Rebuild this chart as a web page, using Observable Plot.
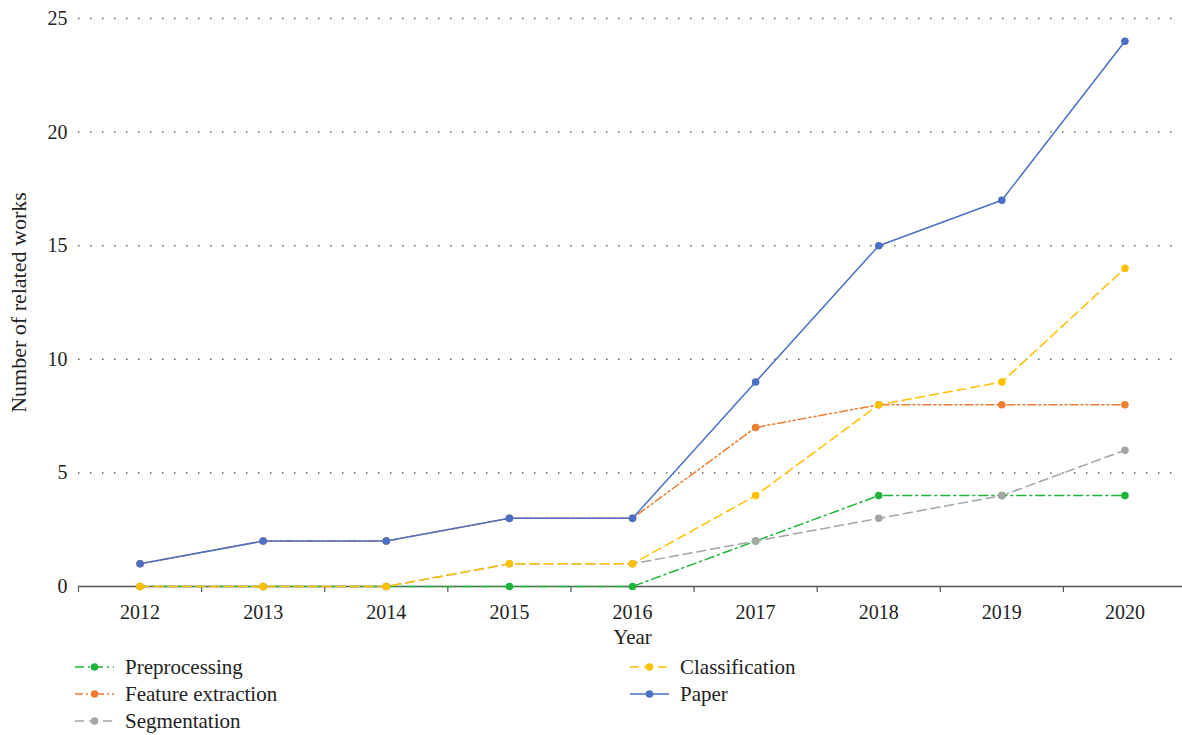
<!DOCTYPE html>
<html>
<head>
<meta charset="utf-8">
<script src="https://cdn.jsdelivr.net/npm/d3@7"></script>
<script src="https://cdn.jsdelivr.net/npm/@observablehq/plot@0.6"></script>
<style>
  body { margin: 0; background: #fff; font-family: "Liberation Serif", serif; }
  #wrap { position: relative; width: 1182px; height: 735px; }
  .leg { position: absolute; display: flex; align-items: center; font-family: "Liberation Serif", "Times New Roman", serif; font-size: 21px; color: #222; height: 24px; }
  .leg span { font-family: "Liberation Serif", "Times New Roman", serif; }
  .leg svg { margin-right: 11px; }
</style>
</head>
<body>
<div id="wrap"></div>
<script>
const years = [2012, 2013, 2014, 2015, 2016, 2017, 2018, 2019, 2020];
const preprocessing     = [0, 0, 0, 0, 0, 2, 4, 4, 4];
const featureExtraction = [1, 2, 2, 3, 3, 7, 8, 8, 8];
const segmentation      = [0, 0, 0, 1, 1, 2, 3, 4, 6];
const classification    = [0, 0, 0, 1, 1, 4, 8, 9, 14];
const paper             = [1, 2, 2, 3, 3, 9, 15, 17, 24];
const yTicks = [0, 5, 10, 15, 20, 25];
const seriesNames = ["Preprocessing", "Feature extraction", "Segmentation", "Classification", "Paper"];
const xTitle = "Year";
const yTitle = "Number of related works";

const series = [
  {name: seriesNames[0], values: preprocessing,     color: "#1fb53a", dash: "9,4,2,4"},
  {name: seriesNames[1], values: featureExtraction, color: "#ed7d31", dash: "8,3,2,3,2,3"},
  {name: seriesNames[2], values: segmentation,      color: "#a5a5a5", dash: "9,5"},
  {name: seriesNames[3], values: classification,    color: "#ffc000", dash: "9,5"},
  {name: seriesNames[4], values: paper,             color: "#4a6fc4", dash: null}
];

const halfYears = years.map(y => y - 0.5).concat([years[years.length - 1] + 0.5]);

const marks = [
  Plot.gridY(yTicks.filter(d => d > 0), {stroke: "#666", strokeOpacity: 1, strokeWidth: 1.5, strokeDasharray: "1.5,10.5"}),
  Plot.axisY({ticks: yTicks, tickSize: 0, tickPadding: 11, label: null}),
  Plot.axisX({ticks: halfYears, tickSize: 6, tickFormat: () => "", stroke: "#555", strokeWidth: 1.2, label: null}),
  Plot.ruleY([0], {stroke: "#555", strokeWidth: 1.5}),
  Plot.axisX({ticks: years, tickSize: 0, tickPadding: 18, tickFormat: d => String(d), label: null}),
  Plot.text([yTitle], {text: d => d, frameAnchor: "left", textAnchor: "middle", lineAnchor: "middle", rotate: -90, dx: -60, fontSize: 22, fill: "#222"}),
  Plot.text([xTitle], {text: d => d, frameAnchor: "bottom", textAnchor: "middle", lineAnchor: "middle", dy: 51, fontSize: 21, fill: "#222"})
];

for (const s of series) {
  const data = years.map((yr, i) => ({year: yr, value: s.values[i]}));
  marks.push(Plot.line(data, {x: "year", y: "value", stroke: s.color, strokeWidth: 1.5, strokeDasharray: s.dash || undefined}));
  marks.push(Plot.dot(data, {x: "year", y: "value", fill: s.color, r: 3.8, stroke: "none"}));
}

const chart = Plot.plot({
  width: 1182,
  height: 650,
  marginLeft: 78,
  marginRight: -4,
  marginTop: 18,
  marginBottom: 64,
  x: {domain: [2011.5, 2020.5]},
  y: {domain: [0, 25]},
  style: {fontFamily: "Liberation Serif, serif", fontSize: "20px", color: "#222", background: "#fff", overflow: "hidden"},
  marks
});
const wrap = document.getElementById("wrap");
wrap.appendChild(chart);

// legend
const legPos = [
  {left: 75, top: 655}, {left: 75, top: 682}, {left: 75, top: 709},
  {left: 630, top: 655}, {left: 630, top: 682}
];
series.forEach((s, i) => {
  const div = document.createElement("div");
  div.className = "leg";
  div.style.left = legPos[i].left + "px";
  div.style.top = legPos[i].top + "px";
  const ns = "http://www.w3.org/2000/svg";
  const svg = document.createElementNS(ns, "svg");
  svg.setAttribute("width", 39); svg.setAttribute("height", 24);
  const line = document.createElementNS(ns, "line");
  line.setAttribute("x1", 0); line.setAttribute("x2", 39);
  line.setAttribute("y1", 12); line.setAttribute("y2", 12);
  line.setAttribute("stroke", s.color); line.setAttribute("stroke-width", 1.5);
  if (s.dash) line.setAttribute("stroke-dasharray", s.dash);
  const c = document.createElementNS(ns, "circle");
  c.setAttribute("cx", 19.5); c.setAttribute("cy", 12); c.setAttribute("r", 3.8);
  c.setAttribute("fill", s.color);
  svg.appendChild(line); svg.appendChild(c);
  div.appendChild(svg);
  const t = document.createElement("span");
  t.textContent = s.name;
  div.appendChild(t);
  wrap.appendChild(div);
});
</script>
</body>
</html>
